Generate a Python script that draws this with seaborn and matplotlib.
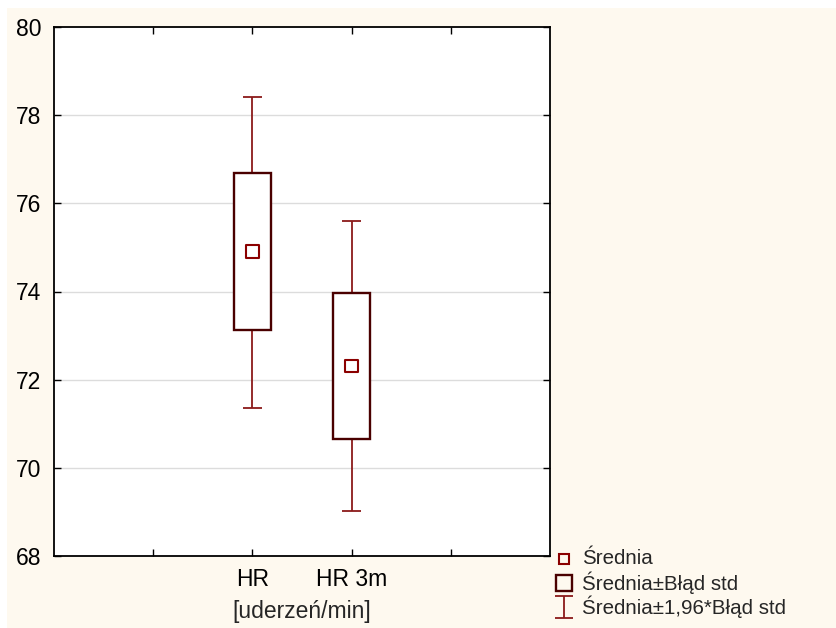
import numpy as np
import pandas as pd
import matplotlib
matplotlib.use("Agg")
import matplotlib.pyplot as plt
from matplotlib.path import Path
from matplotlib.lines import Line2D
from matplotlib.patches import Rectangle
import seaborn as sns

# ---- data ----
categories = ["HR", "HR 3m"]
means = [74.9, 72.31]
se_low = [73.12, 70.65]
se_high = [76.69, 73.97]
ci_low = [71.36, 69.03]
ci_high = [78.42, 75.6]
y_ticks = [68, 70, 72, 74, 76, 78, 80]
x_label = "[uderzeń/min]"
legend_labels = ["Średnia", "Średnia±Błąd std", "Średnia±1,96*Błąd std"]

sns.set_style("white")
plt.rcParams["font.family"] = ["Liberation Sans", "DejaVu Sans"]

W, H = 837, 628
fig = plt.figure(figsize=(W / 100, H / 100), dpi=100, facecolor="white")
fig.patches.append(Rectangle((7 / W, 0), 1, 1 - 8 / H, transform=fig.transFigure,
                             facecolor="#FEF9EF", edgecolor="none", zorder=-10))
ax = fig.add_axes([54 / W, 1 - 556 / H, (550 - 54) / W, (556 - 27) / H])
ax.set_facecolor("white")

pos = np.arange(len(categories)) + 2
df = pd.DataFrame({"x": pos, "mean": means})

box_col = "#4A0000"
err_col = "#8B1A1A"
mean_col = "#8B0000"

for i, x in enumerate(pos):
    ax.vlines(x, ci_low[i], se_low[i], color=err_col, lw=1.3, zorder=2)
    ax.vlines(x, se_high[i], ci_high[i], color=err_col, lw=1.3, zorder=2)
    ax.hlines([ci_low[i], ci_high[i]], x - 0.095, x + 0.095, color=err_col, lw=1.3, zorder=2)
ax.bar(pos, np.array(se_high) - np.array(se_low), bottom=se_low, width=0.38,
       facecolor="white", edgecolor=box_col, linewidth=1.7, zorder=3)

sns.scatterplot(data=df, x="x", y="mean", marker="s", s=85, facecolor="none",
                edgecolor=mean_col, linewidth=1.5, ax=ax, zorder=4, legend=False)

fs = 16.5
ax.set_xlim(0, 5)
ax.set_ylim(68, 80)
ax.set_yticks(y_ticks)
ax.set_yticklabels([str(v) for v in y_ticks], fontsize=fs)
ax.set_xticks([1, 2, 3, 4])
ax.set_xticklabels(["", categories[0], categories[1], ""], fontsize=fs)
ax.set_xlabel(x_label, fontsize=fs, labelpad=6)
ax.set_ylabel("")
ax.tick_params(direction="in", length=5, width=1, top=True, right=True,
               left=True, bottom=True, colors="black")
ax.tick_params(axis="y", pad=9)
ax.tick_params(axis="x", pad=9)
for g in [70, 72, 74, 76, 78]:
    ax.axhline(g, color="#DCDCDC", lw=1, zorder=0)
for s in ax.spines.values():
    s.set_color("black")
    s.set_linewidth(1.3)

# legend (drawn manually in pixel positions of the figure)
ibar = Path([(-0.4, 0.5), (0.4, 0.5), (0, 0.5), (0, -0.5), (-0.4, -0.5), (0.4, -0.5)],
            [Path.MOVETO, Path.LINETO, Path.MOVETO, Path.LINETO, Path.MOVETO, Path.LINETO])
leg_styles = [
    dict(marker="s", markersize=7, mfc="none", mec=mean_col, mew=1.5),
    dict(marker="s", markersize=12, mfc="none", mec=box_col, mew=1.7),
    dict(marker=ibar, markersize=16, color=err_col, mew=1.3),
]
rows_y = [559, 583, 607]
for lab, st, yy in zip(legend_labels, leg_styles, rows_y):
    fig.add_artist(Line2D([564 / W], [1 - yy / H], ls="none", transform=fig.transFigure, **st))
    fig.text(582 / W, 1 - yy / H, lab, fontsize=14.8, va="center", ha="left")

fig.savefig("out.png", dpi=100, facecolor=fig.get_facecolor())
